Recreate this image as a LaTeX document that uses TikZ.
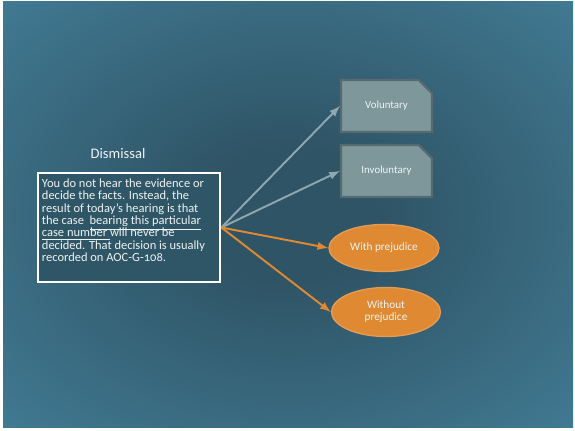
\documentclass[tikz,border=0pt]{standalone}
\usepackage{fontspec}
\setmainfont{Carlito}
\newfontfamily\oldnumfont[Numbers=OldStyle]{Carlito}
\usetikzlibrary{shapes.misc,shapes.geometric}

\definecolor{bgin}{HTML}{2F5466}
\definecolor{bgout}{HTML}{4D95B2}
\definecolor{boxfill}{HTML}{2E5666}
\definecolor{greyfill}{HTML}{7E979B}
\definecolor{greyline}{HTML}{566B70}
\definecolor{greyarrow}{HTML}{8EA8AD}
\definecolor{orangefill}{HTML}{DF8A33}
\definecolor{orangeline}{HTML}{E39A55}
\definecolor{labeltext}{HTML}{EEF2F2}

\newcommand\tightlines{\lineskiplimit-10pt\relax}

\pgfdeclareradialshading{slidebg}{\pgfpoint{0bp}{0bp}}{color(0bp)=(bgin); color(8bp)=(bgin); color(55bp)=(bgout); color(75bp)=(bgout)}

\begin{document}
\begin{tikzpicture}[x=0.02cm, y=-0.02cm, >=latex,
    choice/.style={draw=greyline, line width=1.2pt, fill=greyfill, chamfered rectangle,
      chamfered rectangle corners=north east, chamfered rectangle xsep=0.16cm,
      chamfered rectangle ysep=0.16cm, minimum width=1.82cm, minimum height=1.04cm,
      inner sep=0pt, text=labeltext, font=\fontsize{6.2}{7.5}\selectfont, text depth=0.4ex},
    outcome/.style={draw=orangeline, line width=0.8pt, fill=orangefill, ellipse,
      inner sep=0pt, text=labeltext, align=center, font=\fontsize{6.4}{6.9}\selectfont\tightlines},
    greyarr/.style={->, draw=greyarrow, line width=1.1pt},
    orangearr/.style={->, draw=orangefill, line width=1.1pt}]
      \fill[white] (0,0) rectangle (575,431);
      \shade[shading=slidebg] (3,2) rectangle (573,428);
      \useasboundingbox (0,0) rectangle (575,431);
      \node at (118,153)[text=labeltext, font=\fontsize{8.3}{10}\selectfont] (title){Dismissal};
      \node at (129,227.5)[draw=white, line width=1.6pt, fill=boxfill, minimum width=3.64cm,
        minimum height=2.18cm, inner sep=0pt] (desc){};
      \node at ([xshift=0.1cm, yshift=-0.14cm]desc.north west)[anchor=north west, inner sep=0pt,
        align=left, text=labeltext,
        font=\oldnumfont\fontsize{7.1}{7}\selectfont\tightlines] (desctext){%
        You do not hear the evidence or\\
        decide the facts. Instead, the\\
        result of today’s hearing is that\\
        the case\ \ \underline{bearing this particular}\\
        \underline{case number\ }will never be\\
        decided. That decision is usually\\
        recorded on AOC-G-108.};
      \node at (386.5,106)[choice] (vol){Voluntary};
      \node at (386.5,171)[choice] (invol){Involuntary};
      \node at (384,248)[outcome, minimum width=2.2cm, minimum height=0.94cm] (with){With prejudice};
      \node at (386,312)[outcome, minimum width=2.18cm, minimum height=0.98cm] (without){Without\\prejudice};
      \coordinate (hub) at (desc.east);
      \draw[greyarr] (hub) -- (vol.west);
      \draw[greyarr] (hub) -- (invol.west);
      \draw[orangearr] (hub) -- (with.west);
      \draw[orangearr] (hub) -- (without.west);
\end{tikzpicture}
\end{document}
